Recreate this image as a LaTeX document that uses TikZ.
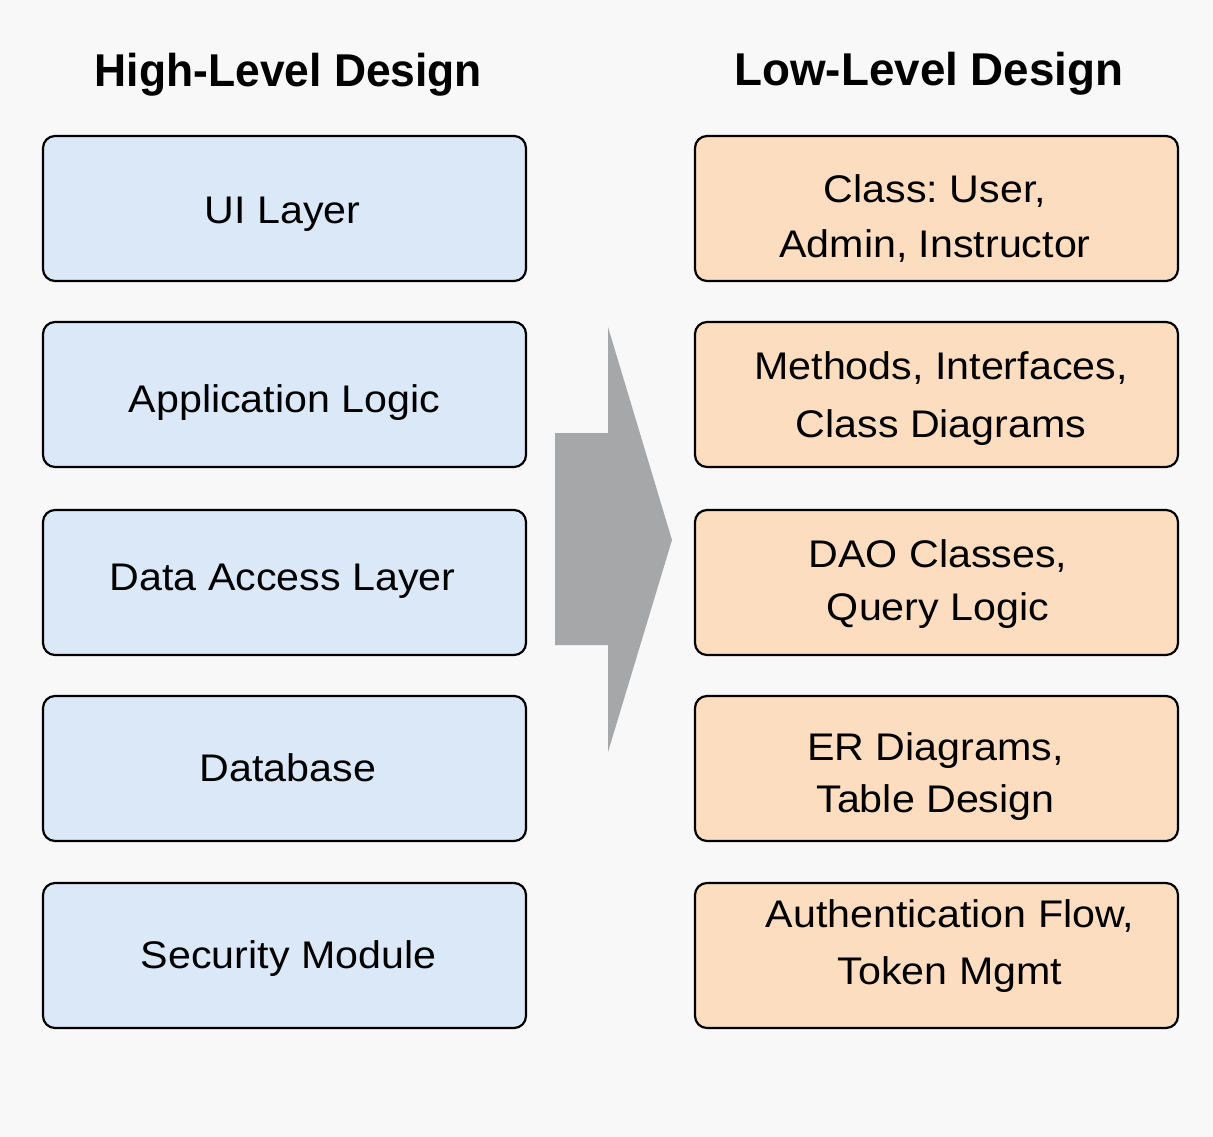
\documentclass[tikz,border=0pt]{standalone}
\usepackage{fontspec}
\setmainfont{Liberation Sans}[FakeStretch=1.07]
\newfontfamily\headfont{Liberation Sans}[FakeStretch=0.965]
\newfontfamily\headfontwide{Liberation Sans}[FakeStretch=0.995]
\frenchspacing
\definecolor{pagebg}{RGB}{248,248,248}
\definecolor{hlfill}{RGB}{218,232,248}
\definecolor{llfill}{RGB}{253,221,192}
\definecolor{arrowgray}{RGB}{166,167,169}
\tikzset{
  layerbox/.style={draw=black, line width=2.2pt, rounded corners=12pt,
    minimum width=483pt, minimum height=145pt, inner sep=0pt},
  hlbox/.style={layerbox, fill=hlfill},
  llbox/.style={layerbox, fill=llfill},
  % box captions are placed by the baseline of their last line
  boxtext/.style={anchor=base, align=center, inner sep=0pt,
    font=\frenchspacing\fontsize{38.5}{#1}\selectfont},
  boxtext/.default=55,
  heading/.style={anchor=base, inner sep=0pt,
    font=#1\fontsize{46}{50}\selectfont\bfseries},
  heading/.default=\headfont
}
\begin{document}
\begin{tikzpicture}[x=1pt, y=-1pt]
  \fill[pagebg] (0,0) rectangle (1213,1137);
  \useasboundingbox (0,0) rectangle (1213,1137);

  % column headings
  \node[heading] (hld) at (288.5,87) {High-Level Design};
  \node[heading=\headfontwide] (lld) at (929,86) {Low-Level Design};

  % high-level layers
  \node[hlbox] (ui)  at (284.5,208.5) {};
  \node[hlbox] (app) at (284.5,394.5) {};
  \node[hlbox] (dal) at (284.5,582.5) {};
  \node[hlbox] (db)  at (284.5,768.5) {};
  \node[hlbox] (sec) at (284.5,955.5) {};

  \node[boxtext] (uitxt)  at (282.5,223) {UI Layer};
  \node[boxtext] (apptxt) at (284.5,412) {Application Logic};
  \node[boxtext] (daltxt) at (282.5,590) {Data Access Layer};
  \node[boxtext] (dbtxt)  at (288,781)   {Database};
  \node[boxtext] (sectxt) at (288.5,968) {Security Module};

  % low-level details
  \node[llbox] (cls)  at (936.5,208.5) {};
  \node[llbox] (meth) at (936.5,394.5) {};
  \node[llbox] (dao)  at (936.5,582.5) {};
  \node[llbox] (er)   at (936.5,768.5) {};
  \node[llbox] (auth) at (936.5,955.5) {};

  \node[boxtext=55] (clstxt)  at (935,257)   {Class: User,\\Admin, Instructor};
  \node[boxtext=58] (methtxt) at (941,437)   {Methods, Interfaces,\\Class Diagrams};
  \node[boxtext=53] (daotxt)  at (938,620)   {DAO Classes,\\Query Logic};
  \node[boxtext=52] (ertxt)   at (935.5,812) {ER Diagrams,\\Table Design};
  \node[boxtext=57] (authtxt) at (950,984)   {Authentication Flow,\\Token Mgmt};

  % block arrow from the high-level to the low-level column
  \fill[arrowgray] (555,433) -- (608,433) -- (608,327) -- (672,540)
    -- (608,752) -- (608,645) -- (555,645) -- cycle;
\end{tikzpicture}
\end{document}
